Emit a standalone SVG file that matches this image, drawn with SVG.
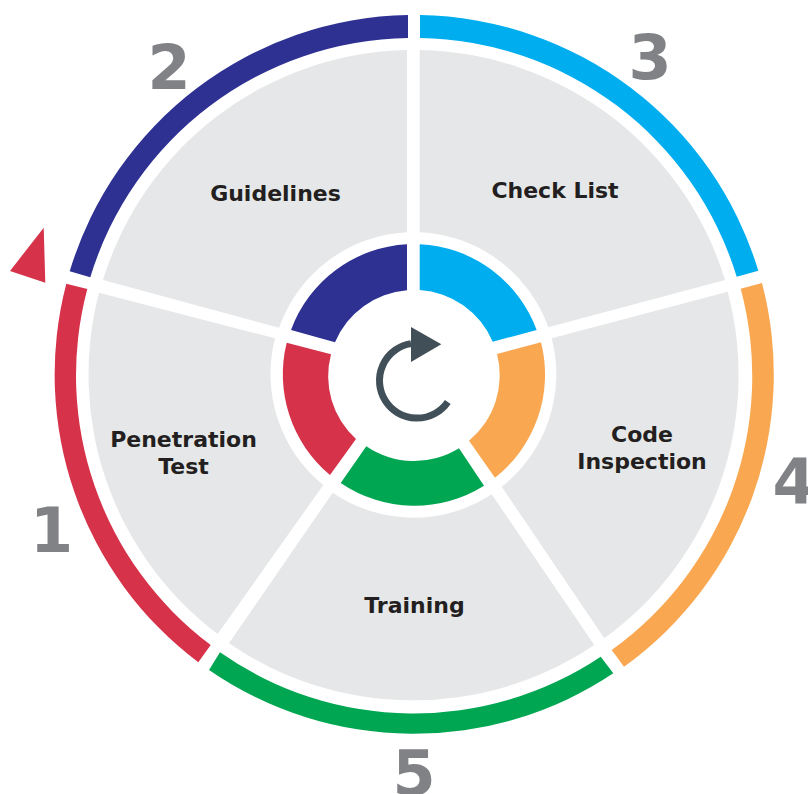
<svg xmlns="http://www.w3.org/2000/svg" width="808" height="794" viewBox="0 0 808 794">
<style>
.sector{fill:#E6E7E8}
.label{font-family:"DejaVu Sans",Verdana,sans-serif;font-weight:700;font-size:22px;fill:#231F20;text-anchor:middle}
.num{font-family:"DejaVu Sans",Verdana,sans-serif;font-weight:700;font-size:62px;fill:#808285;text-anchor:middle}
.red{fill:#D6324A}.navy{fill:#2E3192}.sky{fill:#00AEEF}.orange{fill:#F9A851}.green{fill:#00A651}
</style>
<rect width="808" height="794" fill="#FFFFFF"/>
<g id="node-penetration-test">
<path class="sector" d="M217.7,634 A325,325 0 0 1 99,292.7 L275,338.3 A143,143 0 0 0 323.3,485 Z"/>
<path class="red" d="M66.3,283.7 L87.3,289 A337,337 0 0 0 210.7,645 L198.3,662.3 A360,360 0 0 1 66.3,283.7 Z"/>
<path class="red" d="M286.7,342.7 L331,354.3 A85,85 0 0 0 356,439 L330,475 A131,131 0 0 1 286.7,342.7 Z"/>
<text class="num" x="51.5" y="552">1</text>
<text class="label" x="183.5" y="446.5">Penetration</text>
<text class="label" x="183.5" y="473.5">Test</text>
</g>
<g id="node-guidelines">
<path class="sector" d="M407,50 A325,325 0 0 0 103,280 L279,327.7 A143,143 0 0 1 407,232.3 Z"/>
<path class="navy" d="M408,15 L408,38 A337,337 0 0 0 90.3,277.3 L69.7,271.3 A360,360 0 0 1 408,15 Z"/>
<path class="navy" d="M407,244.3 L407,290.3 A85,85 0 0 0 335,342.3 L291,330 A131,131 0 0 1 407,244.3 Z"/>
<text class="num" x="169" y="89">2</text>
<text class="label" x="275.5" y="200.5">Guidelines</text>
</g>
<g id="node-check-list">
<path class="sector" d="M419.7,50 A325,325 0 0 1 725,280 L548.3,327.3 A143,143 0 0 0 419.7,232.3 Z"/>
<path class="sky" d="M420,15 A360,360 0 0 1 758.3,270.7 L736.7,276.7 A337,337 0 0 0 420,38 Z"/>
<path class="sky" d="M419.7,244.3 A131,131 0 0 1 536.7,330 L492.7,341.7 A85,85 0 0 0 419.7,290 Z"/>
<text class="num" x="650" y="79">3</text>
<text class="label" x="555" y="197.5">Check List</text>
</g>
<g id="node-code-inspection">
<path class="sector" d="M727.7,291.7 A325,325 0 0 1 604.3,638.3 L501.7,486.7 A143,143 0 0 0 551.7,338.3 Z"/>
<path class="orange" d="M762,283 A360,360 0 0 1 624,666.7 L611.7,650 A337,337 0 0 0 740.7,288.7 Z"/>
<path class="orange" d="M541,342.3 A131,131 0 0 1 495,477.7 L469,440.7 A85,85 0 0 0 497,354 Z"/>
<text class="num" x="794" y="503">4</text>
<text class="label" x="642" y="441.5">Code</text>
<text class="label" x="642" y="468.5">Inspection</text>
</g>
<g id="node-training">
<path class="sector" d="M594.3,645 A325,325 0 0 1 229,643.3 L332.7,492.7 A143,143 0 0 0 491.7,494.3 Z"/>
<path class="green" d="M613.3,673.3 A360,360 0 0 1 209,670 L220,652.3 A337,337 0 0 0 600.7,656.7 Z"/>
<path class="green" d="M484,485.7 A131,131 0 0 1 340.7,483 L366.3,446.3 A85,85 0 0 0 459,448.3 Z"/>
<text class="num" x="414" y="795">5</text>
<text class="label" x="414.5" y="612.5">Training</text>
</g>
<g id="connectors">
<polygon class="red" points="43.7,227.7 10,271 45.3,282.7"/>
<path d="M411,343.6 A37.5,37.5 0 1 0 447.8,402" fill="none" stroke="#414F59" stroke-width="7"/>
<polygon fill="#414F59" points="411,327 441.3,344.3 411,362"/>
</g>
</svg>
